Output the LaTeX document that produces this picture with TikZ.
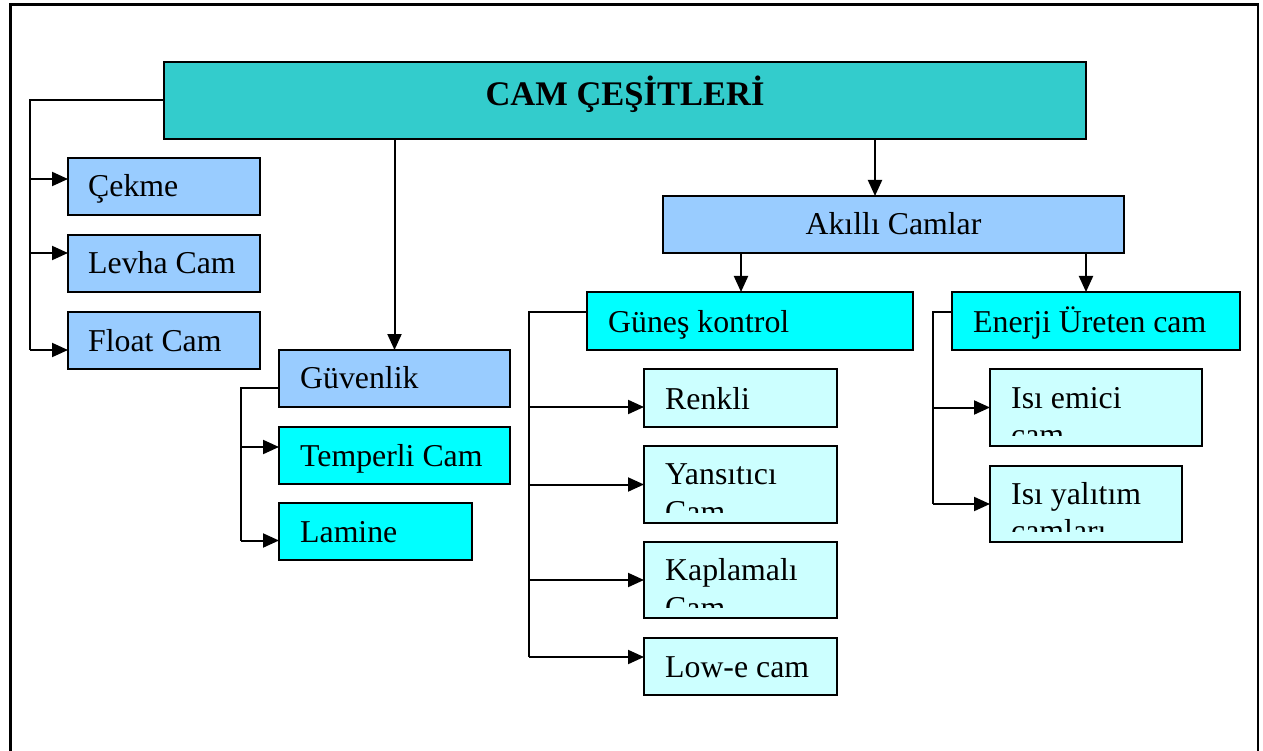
\documentclass[tikz,border=0pt]{standalone}
\usepackage{fontspec}
\setmainfont{Liberation Serif}
\usetikzlibrary{arrows.meta}
\definecolor{titlecol}{HTML}{33CCCC}
\definecolor{lblue}{HTML}{99CCFF}
\definecolor{cyanb}{HTML}{00FFFF}
\definecolor{pale}{HTML}{CCFFFF}
\tikzset{
  box/.style={draw=black, line width=2pt, rectangle, inner sep=0pt, outer sep=0pt, anchor=north west},
  lbl/.style={anchor=base west, inner sep=0pt, font=\fontsize{31.8pt}{37pt}\selectfont},
  conn/.style={draw=black, line width=2pt},
  arr/.style={conn, -{Triangle[length=16pt,width=14pt]}}
}
\begin{document}
\begin{tikzpicture}[x=1pt,y=-1pt]
\useasboundingbox (0,0) rectangle (1263,751);
% outer frame
\draw[line width=2.5pt] (10.5,770) -- (10.5,4.5) -- (1258,4.5) -- (1258,770);

% boxes
\node[box, fill=titlecol, minimum width=922pt, minimum height=77pt] (title) at (164,62) {};
\node[box, fill=lblue, minimum width=192pt, minimum height=57pt] (cekme) at (68,158) {};
\node[box, fill=lblue, minimum width=192pt, minimum height=57pt] (levha) at (68,235) {};
\node[box, fill=lblue, minimum width=192pt, minimum height=57pt] (float) at (68,312) {};
\node[box, fill=lblue, minimum width=231pt, minimum height=57pt] (guv) at (279,350) {};
\node[box, fill=cyanb, minimum width=231pt, minimum height=57pt] (temp) at (279,427) {};
\node[box, fill=cyanb, minimum width=193pt, minimum height=57pt] (lam) at (279,503) {};
\node[box, fill=lblue, minimum width=461pt, minimum height=57pt] (akil) at (663,196) {};
\node[box, fill=cyanb, minimum width=326pt, minimum height=58pt] (gunes) at (587,292) {};
\node[box, fill=cyanb, minimum width=288pt, minimum height=58pt] (enerji) at (952,292) {};
\node[box, fill=pale, minimum width=193pt, minimum height=58pt] (renk) at (644,369) {};
\node[box, fill=pale, minimum width=193pt, minimum height=77pt] (yans) at (644,446) {};
\node[box, fill=pale, minimum width=193pt, minimum height=76pt] (kapl) at (644,542) {};
\node[box, fill=pale, minimum width=193pt, minimum height=57pt] (lowe) at (644,638) {};
\node[box, fill=pale, minimum width=212pt, minimum height=77pt] (isiem) at (990,369) {};
\node[box, fill=pale, minimum width=192pt, minimum height=76pt] (isiyal) at (990,466) {};

% texts
\node[anchor=base, inner sep=0pt, font=\bfseries\fontsize{34.5pt}{40pt}\selectfont] (titletxt) at ([yshift=-5.5pt]title.center) {CAM ÇEŞİTLERİ};
\node[lbl] (t1) at ([shift={(20pt,-39pt)}]cekme.north west) {Çekme};
\node[lbl] (t2) at ([shift={(20pt,-39pt)}]levha.north west) {Levha Cam};
\node[lbl] (t3) at ([shift={(20pt,-39pt)}]float.north west) {Float Cam};
\node[lbl] (t4) at ([shift={(21pt,-38pt)}]guv.north west) {Güvenlik};
\node[lbl] (t5) at ([shift={(21pt,-39pt)}]temp.north west) {Temperli Cam};
\node[lbl] (t6) at ([shift={(21pt,-39pt)}]lam.north west) {Lamine};
\node[anchor=base, inner sep=0pt, font=\fontsize{31.8pt}{37pt}\selectfont] (t7) at ([yshift=-39pt]akil.north) {Akıllı Camlar};
\node[lbl] (t8) at ([shift={(21pt,-40pt)}]gunes.north west) {Güneş kontrol};
\node[lbl] (t9) at ([shift={(21pt,-40pt)}]enerji.north west) {Enerji Üreten cam};
\node[lbl] (t10) at ([shift={(21pt,-40pt)}]renk.north west) {Renkli};
\begin{scope}
\clip (yans.north west) rectangle ([yshift=11pt]yans.south east);
\node[lbl] (t11) at ([shift={(21pt,-38pt)}]yans.north west) {Yansıtıcı};
\node[lbl] (t12) at ([shift={(21pt,-76pt)}]yans.north west) {Cam};
\end{scope}
\begin{scope}
\clip (kapl.north west) rectangle ([yshift=11pt]kapl.south east);
\node[lbl] (t13) at ([shift={(21pt,-38pt)}]kapl.north west) {Kaplamalı};
\node[lbl] (t14) at ([shift={(21pt,-76pt)}]kapl.north west) {Cam};
\end{scope}
\node[lbl] (t15) at ([shift={(21pt,-39pt)}]lowe.north west) {Low-e cam};
\begin{scope}
\clip (isiem.north west) rectangle ([yshift=11pt]isiem.south east);
\node[lbl] (t16) at ([shift={(21pt,-39pt)}]isiem.north west) {Isı emici};
\node[lbl] (t17) at ([shift={(21pt,-76pt)}]isiem.north west) {cam};
\end{scope}
\begin{scope}
\clip (isiyal.north west) rectangle ([yshift=11pt]isiyal.south east);
\node[lbl] (t18) at ([shift={(21pt,-38pt)}]isiyal.north west) {Isı yalıtım};
\node[lbl] (t19) at ([shift={(21pt,-75pt)}]isiyal.north west) {camları};
\end{scope}

% connectors: left group
\coordinate (ltrunk) at ([xshift=-134pt]title.west);
\coordinate (a1) at ([yshift=7.5pt]cekme.west);
\coordinate (a2) at ([yshift=10.5pt]levha.west);
\coordinate (a3) at ([yshift=-9.5pt]float.west);
\draw[conn] (title.west) -- (ltrunk) -- (ltrunk |- a3);
\draw[arr] (ltrunk |- a1) -- (a1);
\draw[arr] (ltrunk |- a2) -- (a2);
\draw[arr] (ltrunk |- a3) -- (a3);

% title -> guvenlik, title -> akilli
\draw[arr] (title.south -| guv.north) -- (guv.north);
\coordinate (aktop) at ([xshift=-18.5pt]akil.north);
\draw[arr] (title.south -| aktop) -- (aktop);
\coordinate (gntop) at ([xshift=-9pt]gunes.north);
\coordinate (entop) at ([xshift=-10pt]enerji.north);
\draw[arr] (akil.south -| gntop) -- (gntop);
\draw[arr] (akil.south -| entop) -- (entop);

% guvenlik group
\coordinate (gs) at ([yshift=-9.5pt]guv.west);
\coordinate (gtr) at ([xshift=-38pt]gs);
\coordinate (b1) at ([yshift=8.5pt]temp.west);
\coordinate (b2) at ([yshift=-9pt]lam.west);
\draw[conn] (gs) -- (gtr) -- (gtr |- b2);
\draw[arr] (gtr |- b1) -- (b1);
\draw[arr] (gtr |- b2) -- (b2);

% gunes group
\coordinate (ns) at ([yshift=9pt]gunes.west);
\coordinate (ntr) at ([xshift=-58pt]ns);
\coordinate (c1) at ([yshift=-9pt]renk.west);
\coordinate (c2) at (yans.west);
\coordinate (c3) at (kapl.west);
\coordinate (c4) at ([yshift=9.5pt]lowe.west);
\draw[conn] (ns) -- (ntr) -- (ntr |- c4);
\draw[arr] (ntr |- c1) -- (c1);
\draw[arr] (ntr |- c2) -- (c2);
\draw[arr] (ntr |- c3) -- (c3);
\draw[arr] (ntr |- c4) -- (c4);

% enerji group
\coordinate (es) at ([yshift=9pt]enerji.west);
\coordinate (etr) at ([xshift=-19pt]es);
\coordinate (d1) at (isiem.west);
\coordinate (d2) at (isiyal.west);
\draw[conn] (es) -- (etr) -- (etr |- d2);
\draw[arr] (etr |- d1) -- (d1);
\draw[arr] (etr |- d2) -- (d2);
\end{tikzpicture}
\end{document}
